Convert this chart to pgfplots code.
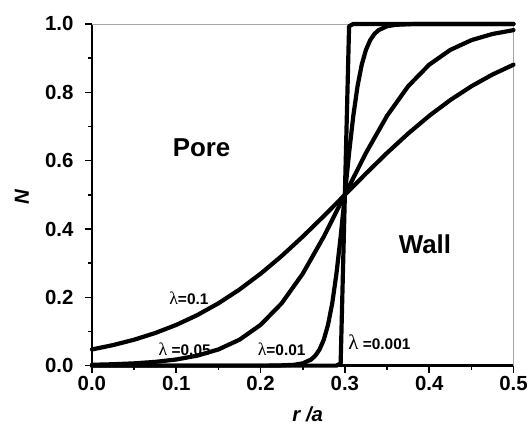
\documentclass[border=0pt]{standalone}
\usepackage{fontspec}
\setmainfont{Liberation Sans}
\newfontfamily\lam{Liberation Serif}
\usepackage{pgfplots}
\pgfplotsset{compat=1.18}
\pgfplotsset{curve/.style={black, line width=4.2bp, line join=round, line cap=round, no markers}}
\begin{document}
\begin{tikzpicture}
\begin{axis}[
  scale only axis,
  width=422bp, height=342bp,
  xmin=0, xmax=0.5, ymin=0, ymax=1,
  clip=false,
  axis x line*=bottom, axis y line*=left,
  axis line style={-, line width=2.6bp, black},
  xtick={0,0.1,0.2,0.3,0.4,0.5},
  ytick={0,0.2,0.4,0.6,0.8,1.0},
  minor x tick num=1, minor y tick num=1,
  tick align=outside,
  major tick length=7bp, minor tick length=4bp,
  every tick/.style={black, line width=1.6bp},
  tick label style={font=\fontsize{20.5}{22}\selectfont\bfseries},
  /pgf/number format/assume math mode=true,
  xticklabel style={/pgf/number format/.cd, fixed, fixed zerofill, precision=1},
  yticklabel style={xshift=-8bp, /pgf/number format/.cd, fixed, fixed zerofill, precision=1},
  xlabel={\fontsize{20.5}{22}\selectfont\bfseries\itshape r /a},
  ylabel={\fontsize{20.5}{22}\selectfont\bfseries\itshape N},
  xlabel style={at={(axis description cs:0.512,-0.143)}, anchor=center},
  ylabel style={at={(axis description cs:-0.166,0.494)}, anchor=center},
]
\path (rel axis cs:0,0) ++(-92bp,-69bp);
\path (rel axis cs:1,1) ++(17bp,24bp);
\draw[gray!70, line width=0.8bp] (rel axis cs:0,1) -- (rel axis cs:1,1) -- (rel axis cs:1,0);
% lambda = 0.1
\addplot[curve] coordinates {
(0,0.0474)(0.025,0.0601)(0.05,0.0759)(0.075,0.0954)(0.1,0.1192)(0.125,0.1480)
(0.15,0.1824)(0.175,0.2227)(0.2,0.2689)(0.225,0.3208)(0.25,0.3775)(0.275,0.4378)
(0.3,0.5)(0.325,0.5622)(0.35,0.6225)(0.375,0.6792)(0.4,0.7311)(0.425,0.7773)
(0.45,0.8176)(0.475,0.8520)(0.5,0.8808)};
% lambda = 0.05
\addplot[curve] coordinates {
(0,0.0025)(0.025,0.0041)(0.05,0.0067)(0.075,0.0110)(0.1,0.0180)(0.125,0.0293)
(0.15,0.0474)(0.175,0.0759)(0.2,0.1192)(0.225,0.1824)(0.25,0.2689)(0.275,0.3775)
(0.3,0.5)(0.325,0.6225)(0.35,0.7311)(0.375,0.8176)(0.4,0.8808)(0.425,0.9241)
(0.45,0.9526)(0.475,0.9707)(0.5,0.9820)};
% lambda = 0.01
\addplot[curve] coordinates {
(0,0)(0.1,0)(0.2,0.0000)(0.22,0.0003)(0.24,0.0025)(0.25,0.0067)(0.26,0.0180)
(0.265,0.0293)(0.27,0.0474)(0.275,0.0759)(0.28,0.1192)(0.285,0.1824)(0.29,0.2689)
(0.295,0.3775)(0.3,0.5)(0.305,0.6225)(0.31,0.7311)(0.315,0.8176)(0.32,0.8808)
(0.325,0.9241)(0.33,0.9526)(0.335,0.9707)(0.34,0.9820)(0.35,0.9933)(0.36,0.9975)
(0.38,0.9997)(0.4,1.0)(0.5,1.0)};
% lambda = 0.001
\addplot[curve] coordinates {
(0,0)(0.29,0)(0.295,0.0067)(0.3,0.5)(0.305,0.9933)(0.31,1.0)(0.5,1.0)};
\node[font=\fontsize{26}{28}\selectfont\bfseries] at (axis cs:0.130,0.637) {Pore};
\node[font=\fontsize{26}{28}\selectfont\bfseries] at (axis cs:0.395,0.354) {Wall};
\node[font=\fontsize{15.5}{17}\selectfont\bfseries] at (axis cs:0.115,0.196) {{\lam\mdseries\fontsize{18}{18}\selectfont λ}=0.1};
\node[font=\fontsize{15.5}{17}\selectfont\bfseries] at (axis cs:0.110,0.047) {{\lam\mdseries\fontsize{18}{18}\selectfont λ} =0.05};
\node[font=\fontsize{15.5}{17}\selectfont\bfseries] at (axis cs:0.225,0.047) {{\lam\mdseries\fontsize{18}{18}\selectfont λ}=0.01};
\node[font=\fontsize{15.5}{17}\selectfont\bfseries] at (axis cs:0.341,0.068) {{\lam\mdseries\fontsize{21}{21}\selectfont λ} =0.001};
\end{axis}
\end{tikzpicture}
\end{document}
